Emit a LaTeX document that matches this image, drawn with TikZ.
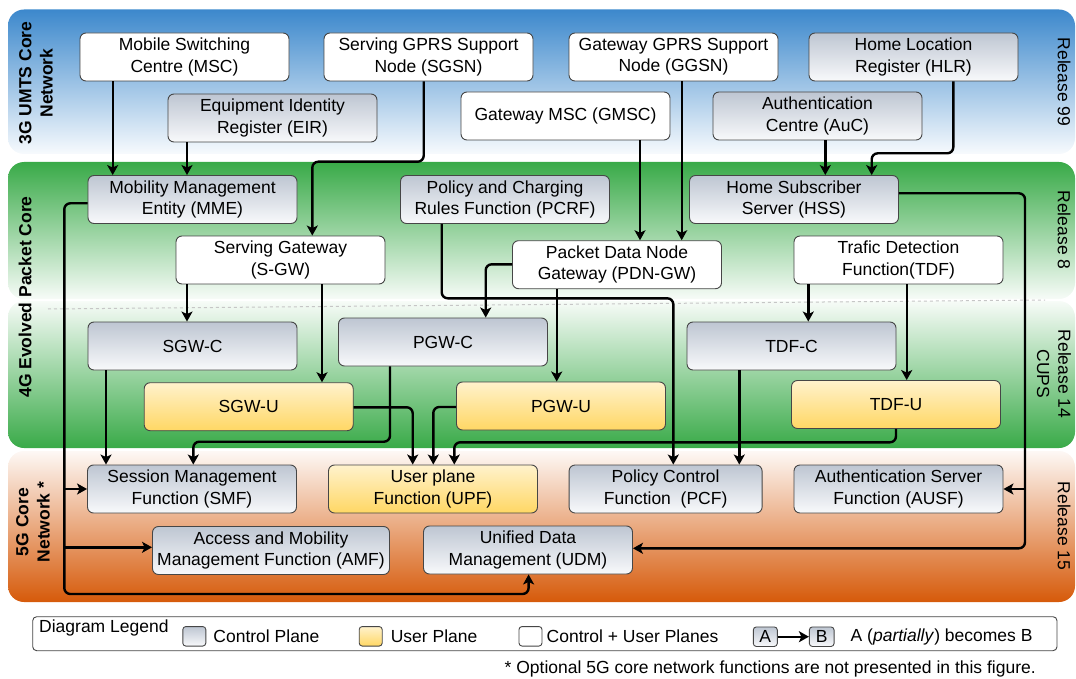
\documentclass[tikz,border=0pt]{standalone}
\usepackage{fontspec}
\setmainfont{Liberation Sans}
\usepackage{tikz}
\usetikzlibrary{positioning,arrows.meta,calc}
\definecolor{umtsblue}{RGB}{60,136,204}
\definecolor{epcgreen}{RGB}{57,170,72}
\definecolor{ngorange}{RGB}{214,90,10}
\definecolor{ctrltop}{RGB}{190,198,210}
\definecolor{ctrlbot}{RGB}{248,249,251}
\definecolor{usertop}{RGB}{255,242,204}
\definecolor{userbot}{RGB}{255,215,100}
\definecolor{boxline}{RGB}{70,70,70}
\newcommand{\boxfont}{\fontsize{17.5}{21.3}\selectfont}
\tikzset{>={Stealth[length=10pt,width=11pt,inset=2.5pt]}}
\tikzset{
  nf/.style={rectangle, rounded corners=6pt, draw=boxline, line width=0.9pt,
    minimum width=209pt, minimum height=48pt, inner sep=0pt, align=center, font=\boxfont},
  ctrlbox/.style={nf, top color=ctrltop, bottom color=ctrlbot},
  userbox/.style={nf, top color=usertop, bottom color=userbot},
  bothbox/.style={nf, fill=white},
  conn/.style={->, line width=2.4pt, rounded corners=6pt},
  band/.style={rounded corners=16pt},
  swatch/.style={minimum width=23pt, minimum height=19.5pt, rounded corners=3pt},
  legtext/.style={inner sep=0pt, font=\boxfont},
}

\begin{document}
\begin{tikzpicture}[x=1pt,y=-1pt]
\useasboundingbox (0,0) rectangle (1076,679);
% release bands
\shade[band, top color=umtsblue, bottom color=umtsblue!4] (8,9.5) rectangle (1075,154);
\shade[band, top color=epcgreen, bottom color=epcgreen!4] (8,162) rectangle (1075,299);
\shade[band, top color=epcgreen!4, bottom color=epcgreen] (8,301) rectangle (1075,448);
\shade[band, top color=ngorange!4, bottom color=ngorange] (8,451) rectangle (1075,602);
\draw[gray!45, dashed, line width=1pt] (48,309) -- (1045,300);

\node[rotate=90, align=center, font=\boxfont\bfseries] (lbl3g) at (36,83) {3G UMTS Core\\Network};
\node[rotate=90, font=\boxfont\bfseries] (lbl4g) at (25,297) {4G Evolved Packet Core};
\node[rotate=90, align=center, font=\boxfont\bfseries] (lbl5g) at (33,522) {5G Core\\Network *};
\node[rotate=-90, font=\boxfont] (rel99) at (1064,82) {Release 99};
\node[rotate=-90, font=\boxfont] (rel8) at (1064,230) {Release 8};
\node[rotate=-90, align=center, font=\boxfont] (rel14) at (1054,374) {Release 14\\CUPS};
\node[rotate=-90, font=\boxfont] (rel15) at (1064,526) {Release 15};

% 3G
\node[bothbox] (msc) at (184.5,57) {Mobile Switching\\Centre (MSC)};
\node[bothbox] (sgsn) at (428.5,57) {Serving GPRS Support\\Node (SGSN)};
\node[bothbox] (ggsn) at (673.5,57) {Gateway GPRS Support\\Node (GGSN)};
\node[ctrlbox] (hlr) at (913.5,57) {Home Location\\Register (HLR)};
\node[ctrlbox] (eir) at (272.5,118) {Equipment Identity\\Register (EIR)};
\node[bothbox] (gmsc) at (565.5,116) {Gateway MSC (GMSC)};
\node[ctrlbox] (auc) at (817.5,116) {Authentication\\Centre (AuC)};
% 4G
\node[ctrlbox] (mme) at (192.5,199.5) {Mobility Management\\Entity (MME)};
\node[ctrlbox] (pcrf) at (505,199.5) {Policy and Charging\\Rules Function (PCRF)};
\node[ctrlbox] (hss) at (794,199.5) {Home Subscriber\\Server (HSS)};
\node[bothbox] (sgw) at (280.5,260) {Serving Gateway\\(S-GW)};
\node[bothbox] (pdngw) at (617,264.7) {Packet Data Node\\Gateway (PDN-GW)};
\node[bothbox] (tdf) at (898.5,260) {Trafic Detection\\Function(TDF)};
% CUPS
\node[ctrlbox] (sgwc) at (192.5,346) {SGW-C};
\node[ctrlbox] (pgwc) at (443,342) {PGW-C};
\node[ctrlbox] (tdfc) at (791.5,346) {TDF-C};
\node[userbox] (sgwu) at (248.7,406.7) {SGW-U};
\node[userbox] (pgwu) at (561,406) {PGW-U};
\node[userbox] (tdfu) at (896,404.5) {TDF-U};
% 5G
\node[ctrlbox] (smf) at (192,489) {Session Management\\Function (SMF)};
\node[userbox] (upf) at (433,489) {User plane\\Function (UPF)};
\node[ctrlbox, minimum width=193pt] (pcf) at (665.6,489) {Policy Control\\Function\ \ (PCF)};
\node[ctrlbox] (ausf) at (898.5,489) {Authentication Server\\Function (AUSF)};
\node[ctrlbox, minimum width=237pt] (amf) at (271,550.5) {Access and Mobility\\Management Function (AMF)};
\node[ctrlbox] (udm) at (528,550) {Unified Data\\Management (UDM)};

% connectors
\draw[conn] (112.7,0 |- msc.south) -- (112.7,0 |- mme.north);
\draw[conn] (187,0 |- eir.south) -- (187,0 |- mme.north);
\draw[conn] (423.7,0 |- sgsn.south) -- (423.7,161.7) -- (312.3,161.7) -- (312.3,0 |- sgw.north);
\draw[conn] (640,0 |- gmsc.south) -- (640,0 |- pdngw.north);
\draw[conn] (681.7,0 |- ggsn.south) -- (681.7,0 |- pdngw.north);
\draw[conn] (825.3,0 |- auc.south) -- (825.3,0 |- hss.north);
\draw[conn] (953.3,0 |- hlr.south) -- (953.3,153.3) -- (871.7,153.3) -- (871.7,0 |- hss.north);

\draw[conn] (mme.west |- 0,203.3) -- (64.3,203.3) -- (64.3,594) -- (528.6,594) -- (528.6,0 |- udm.south);
\draw[conn] (64.3,0 |- smf.west) -- (smf.west);
\draw[conn] (64.3,547.3) -- (amf.west |- 0,547.3);
\draw[conn] (hss.east |- 0,193.3) -- (1025,193.3) -- (1025,548.3) -- (udm.east |- 0,548.3);
\draw[conn] (1025,0 |- ausf.east) -- (ausf.east);

\draw[conn] (187,0 |- sgw.south) -- (187,0 |- sgwc.north);
\draw[conn] (322,0 |- sgw.south) -- (322,0 |- sgwu.north);
\draw[conn] (441.7,0 |- pcrf.south) -- (441.7,298.3) -- (673.3,298.3) -- (673.3,0 |- pcf.north);
\draw[conn] (pdngw.west |- 0,264.3) -- (485.7,264.3) -- (485.7,0 |- pgwc.north);
\draw[conn] (556.7,0 |- pdngw.south) -- (556.7,0 |- pgwu.north);
\draw[conn] (808.3,0 |- tdf.south) -- (808.3,0 |- tdfc.north);
\draw[conn] (906.7,0 |- tdf.south) -- (906.7,0 |- tdfu.north);

\draw[conn] (106,0 |- sgwc.south) -- (106,0 |- smf.north);
\draw[conn] (390,0 |- pgwc.south) -- (390,441.7) -- (193.3,441.7) -- (193.3,0 |- smf.north);
\draw[conn] (sgwu.east |- 0,407.3) -- (412.7,407.3) -- (412.7,0 |- upf.north);
\draw[conn] (pgwu.west |- 0,407) -- (433.3,407) -- (433.3,0 |- upf.north);
\draw[conn] (tdfu.south) -- (tdfu.south |- 0,442.3) -- (454.3,442.3) -- (454.3,0 |- upf.north);
\draw[conn] (739.3,0 |- tdfc.south) -- (739.3,0 |- pcf.north);

% legend
\draw[boxline, line width=0.9pt, rounded corners=4pt, fill=white] (32.7,616.7) rectangle (1057,650.7);
\node[legtext, anchor=west] (legtitle) at (39,628) {Diagram Legend};
\node[nf, swatch, top color=ctrltop, bottom color=ctrlbot] (swctrl) at (194.3,636.3) {};
\node[legtext, right=7pt of swctrl] (txctrl) {Control Plane};
\node[nf, swatch, top color=usertop, bottom color=userbot] (swuser) at (370.7,636.3) {};
\node[legtext, right=8pt of swuser] (txuser) {User Plane};
\node[nf, swatch, fill=white] (swboth) at (530.5,636.3) {};
\node[legtext, right=4pt of swboth] (txboth) {Control + User Planes};
\node[nf, swatch, minimum width=24pt, top color=ctrltop, bottom color=ctrlbot] (swa) at (765.3,636.7) {A};
\node[nf, swatch, minimum width=24.7pt, top color=ctrltop, bottom color=ctrlbot] (swb) at (821.7,636.7) {B};
\draw[->, line width=2pt] (swa.east) -- (swb.west);
\node[legtext, right=16pt of swb] (txab) {A (\textit{partially}) becomes B};
\node[legtext, anchor=east] (foot) at (1036,669) {* Optional 5G core network functions are not presented in this figure.};
\end{tikzpicture}
\end{document}
